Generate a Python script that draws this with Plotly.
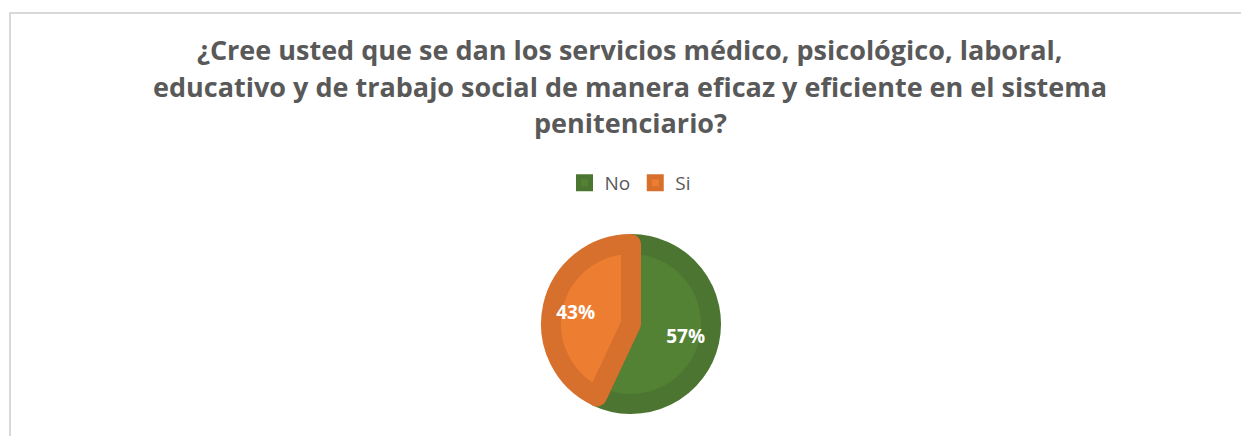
import plotly.graph_objects as go

W, H = 1241, 436

labels = ["No", "Si"]
values = [57, 43]
fill_colors = ["#548235", "#ED7D31"]
edge_colors = ["#4B7530", "#D6702C"]

title_lines = [
    "¿Cree usted que se dan los servicios médico, psicológico, laboral,",
    "educativo y de trabajo social de manera eficaz y eficiente en el sistema",
    "penitenciario?",
]
title_y = [50, 87, 123]

cx, cy, r = 631, 324, 80
rt = 112  # radius of the invisible label pie (moves labels outward)


def dom(rad):
    return dict(x=[(cx - rad) / W, (cx + rad) / W],
                y=[max(0, (H - cy - rad) / H), min(1, (H - cy + rad) / H)])


fig = go.Figure()
fig.add_trace(go.Pie(
    labels=labels, values=values, sort=False,
    direction="clockwise", rotation=0,
    marker=dict(colors=fill_colors, line=dict(color=edge_colors, width=20)),
    textinfo="none",
    domain=dom(r),
    hoverinfo="label+percent",
))
fig.add_trace(go.Pie(
    labels=labels, values=values, sort=False,
    direction="clockwise", rotation=0,
    marker=dict(colors=["rgba(0,0,0,0)"] * len(values), line=dict(width=0)),
    texttemplate="%{percent:.0%}",
    textposition="inside",
    insidetextorientation="horizontal",
    textfont=dict(family="Open Sans", size=19, color="white", weight="bold"),
    domain=dom(rt),
    showlegend=False,
    hoverinfo="skip",
))

annotations = [
    dict(text=t, x=630 / W, y=1 - yy / H, xref="paper", yref="paper",
         xanchor="center", yanchor="middle", showarrow=False,
         font=dict(family="Open Sans", size=27, color="#595959", weight="bold"))
    for t, yy in zip(title_lines, title_y)
]

fig.update_layout(
    width=W, height=H,
    margin=dict(l=0, r=0, t=0, b=0),
    paper_bgcolor="white",
    plot_bgcolor="white",
    annotations=annotations,
    legend=dict(orientation="h", x=630 / W, xanchor="center",
                y=1 - 183 / H, yanchor="middle",
                font=dict(family="Open Sans", size=19, color="#595959"),
                itemwidth=30, itemclick=False),
    shapes=[dict(type="rect", xref="paper", yref="paper",
                 x0=10 / W, x1=1.05, y0=-0.05, y1=1 - 13 / H,
                 line=dict(color="#D9D9D9", width=2), layer="below")],
)

fig.write_html("out.html", config={"displayModeBar": False},
               post_script="document.body.style.margin='0px';")
